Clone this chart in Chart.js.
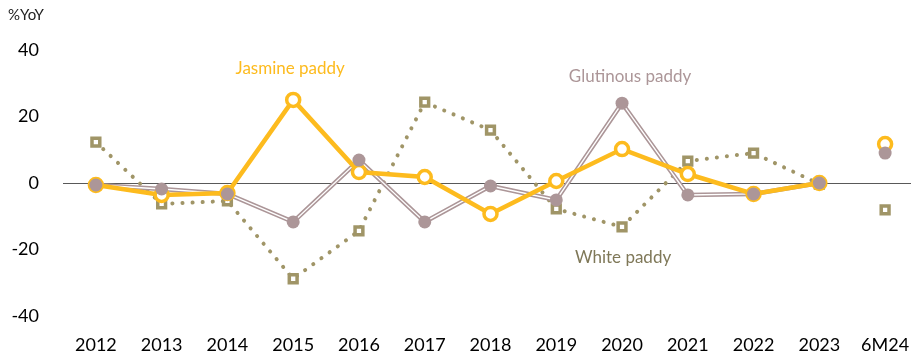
<!DOCTYPE html>
<html lang="en">
<head>
    <meta charset="UTF-8">
    <title>Paddy prices %YoY</title>
    <script src="https://cdn.jsdelivr.net/npm/chart.js"></script>
    <style>
        html, body { margin: 0; padding: 0; background: #fff; overflow: hidden; }
        #wrap { position: absolute; left: 0; top: 0; width: 918px; height: 358px; }
    </style>
</head>
<body>
    <div id="wrap"><canvas id="paddyChart" width="918" height="358"></canvas></div>

    <script>
        const years = ['2012', '2013', '2014', '2015', '2016', '2017', '2018', '2019', '2020', '2021', '2022', '2023', '6M24'];

        // annual %YoY (last value = 6M24, drawn as a lone marker)
        const jasmine = [-0.6, -3.6, -3.0, 25.0, 3.3, 1.8, -9.3, 0.6, 10.2, 2.7, -3.3, 0.0, 11.7];
        const glutinous = [-0.6, -1.8, -3.3, -11.7, 6.9, -11.7, -0.9, -5.1, 24.0, -3.6, -3.3, 0.0, 9.0];
        const white = [12.3, -6.3, -5.4, -28.8, -14.4, 24.3, 15.9, -7.8, -13.2, 6.6, 9.0, -0.3, -8.1];

        const yTicks = [-40, -20, 0, 20, 40];

        const jasmineColor = '#FDBB1E';
        const glutColor = '#AC9698';
        const whiteColor = '#A09567';

        // split annual line from the standalone 6M24 point
        function linePart(arr) { return arr.map((v, i) => i < arr.length - 1 ? v : null); }
        function lastPart(arr) { return arr.map((v, i) => i === arr.length - 1 ? v : null); }

        const seriesLabels = {
            id: 'seriesLabels',
            afterDatasetsDraw(chart) {
                const ctx = chart.ctx;
                const x = chart.scales.x, y = chart.scales.y;
                ctx.save();
                ctx.font = '17px Lato';
                ctx.textAlign = 'center';
                ctx.textBaseline = 'middle';
                ctx.fillStyle = jasmineColor;
                ctx.fillText('Jasmine paddy', x.getPixelForValue(3) - 3, y.getPixelForValue(34.5));
                ctx.fillStyle = glutColor;
                ctx.fillText('Glutinous paddy', x.getPixelForValue(8) + 8, y.getPixelForValue(32));
                ctx.fillStyle = '#7F7858';
                ctx.fillText('White paddy', x.getPixelForValue(8) + 1, y.getPixelForValue(-22.5));
                ctx.textAlign = 'left';
                ctx.fillStyle = '#222';
                ctx.font = '15px Lato';
                ctx.fillText('%YoY', 8, 15);
                ctx.restore();
            }
        };

        const whitePoint = {
            borderColor: whiteColor, backgroundColor: '#fff',
            pointStyle: 'rect', pointRadius: 5.5, pointBorderWidth: 3.5,
            pointBorderColor: whiteColor, pointBackgroundColor: '#fff'
        };
        const jasPoint = {
            borderColor: jasmineColor, backgroundColor: '#fff',
            pointRadius: 6.5, pointBorderWidth: 3.5,
            pointBorderColor: jasmineColor, pointBackgroundColor: '#fff'
        };

        new Chart(document.getElementById('paddyChart'), {
            type: 'line',
            data: {
                labels: years,
                datasets: [
                    Object.assign({ label: 'White paddy', data: linePart(white), order: 10,
                        borderWidth: 4, borderDash: [0.1, 10], borderCapStyle: 'round' }, whitePoint),
                    Object.assign({ label: 'White paddy 6M24', data: lastPart(white), order: 10, showLine: false }, whitePoint),
                    { label: 'Glutinous outer', data: linePart(glutinous), order: 8,
                      borderColor: glutColor, borderWidth: 4.5, pointRadius: 0 },
                    { label: 'Glutinous inner', data: linePart(glutinous), order: 7,
                      borderColor: '#fff', borderWidth: 1.3, pointRadius: 0 },
                    Object.assign({ label: 'Jasmine paddy', data: linePart(jasmine), order: 5, borderWidth: 4.5 }, jasPoint),
                    Object.assign({ label: 'Jasmine 6M24', data: lastPart(jasmine), order: 5, showLine: false }, jasPoint),
                    { label: 'Glutinous points', data: glutinous, order: 1, showLine: false,
                      pointRadius: 6.5, pointBorderWidth: 0, pointBackgroundColor: glutColor, borderColor: glutColor }
                ]
            },
            options: {
                responsive: false,
                animation: false,
                layout: { autoPadding: false, padding: { top: 50, left: 0, right: 0, bottom: 0 } },
                plugins: { legend: { display: false }, tooltip: { enabled: false } },
                scales: {
                    x: {
                        offset: true,
                        grid: { display: false, drawTicks: false, offset: true },
                        border: { display: false },
                        ticks: { color: '#000', font: { family: 'Lato', size: 18 }, padding: 18, maxRotation: 0 },
                        afterFit(s) { s.height = 42; s.paddingLeft = 0; s.paddingRight = 0; }
                    },
                    y: {
                        min: -40, max: 40,
                        afterBuildTicks(s) { s.ticks = yTicks.map(v => ({ value: v })); },
                        grid: {
                            drawTicks: false,
                            color: c => c.tick && c.tick.value === 0 ? '#595959' : 'rgba(0,0,0,0)',
                            lineWidth: 1
                        },
                        border: { display: false },
                        ticks: { color: '#000', font: { family: 'Lato', size: 18 }, padding: 24 },
                        afterFit(s) { s.width = 63; s.paddingTop = 0; s.paddingBottom = 0; }
                    }
                }
            },
            plugins: [seriesLabels]
        });
    </script>
</body>
</html>
